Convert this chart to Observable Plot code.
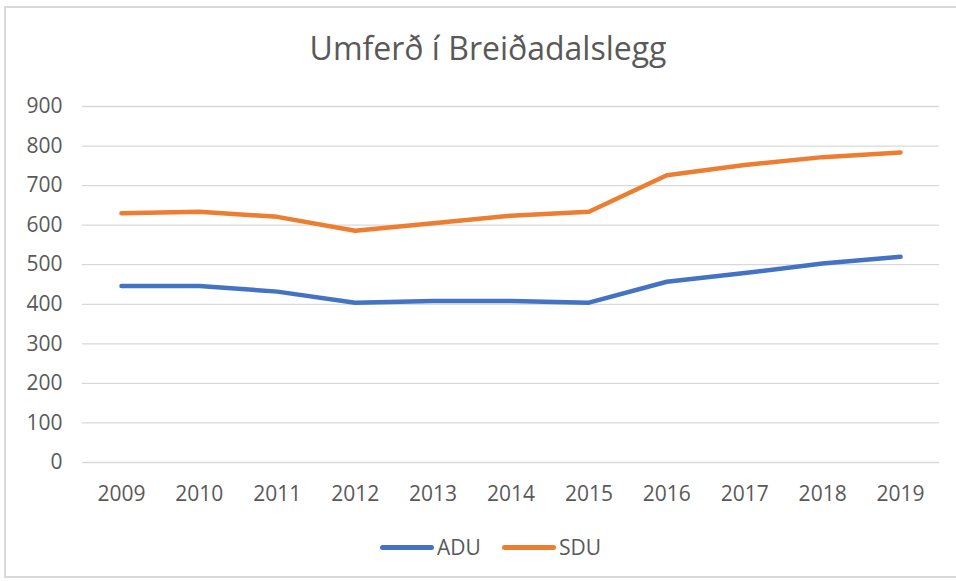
<!DOCTYPE html>
<html>
<head>
<meta charset="utf-8">
<script src="https://cdn.jsdelivr.net/npm/d3@7"></script>
<script src="https://cdn.jsdelivr.net/npm/@observablehq/plot@0.6"></script>
<style>
  html, body { margin: 0; padding: 0; background: #fff; }
  #wrap { position: relative; width: 956px; height: 581px; overflow: hidden; font-family: "Open Sans", sans-serif; color: #595959; }
  #frame { position: absolute; left: 4px; top: 6px; width: 970px; height: 572px; border: 2px solid #d9d9d9; box-sizing: border-box; }
  #title { position: absolute; top: 26px; left: 0; width: 976px; text-align: center; font-size: 32px; font-weight: 400; color: #595959; }
  #chart { position: absolute; top: 80px; left: 0; }
  #legend { position: absolute; top: 532px; left: 0; width: 956px; height: 30px; }
  .item { position: absolute; top: 0; height: 30px; font-size: 21px; line-height: 30px; color: #595959; }
  .swatch { position: absolute; top: 13px; height: 4.5px; border-radius: 3px; width: 54px; left: 0; }
  .lbl { position: absolute; left: 57px; top: 0; }
</style>
</head>
<body>
<div id="wrap">
  <div id="frame"></div>
  <div id="title">Umferð í Breiðadalslegg</div>
  <div id="chart"></div>
  <div id="legend"></div>
</div>
<script>
const years = ["2009","2010","2011","2012","2013","2014","2015","2016","2017","2018","2019"];
const adu = [446, 446, 432, 404, 408, 408, 404, 457, 479, 503, 520];
const sdu = [630, 634, 621, 586, 605, 624, 634, 726, 752, 772, 784];
const seriesNames = ["ADU", "SDU"];
const seriesColors = ["#4472C4", "#ED7D31"];
const yTicks = [0, 100, 200, 300, 400, 500, 600, 700, 800, 900];

const data = [];
years.forEach((y, i) => {
  data.push({year: y, value: adu[i], series: "ADU"});
  data.push({year: y, value: sdu[i], series: "SDU"});
});

const plot = Plot.plot({
  width: 956,
  height: 430,
  marginTop: 26,
  marginBottom: 48,
  marginLeft: 82,
  marginRight: 17,
  style: {fontSize: "21px", fontFamily: "Open Sans, sans-serif", color: "#595959", background: "transparent"},
  x: {type: "point", domain: years, padding: 0.5, round: false, label: null},
  y: {domain: [0, 900], label: null},
  color: {domain: seriesNames, range: seriesColors},
  marks: [
    Plot.gridY(yTicks, {stroke: "#d9d9d9", strokeOpacity: 1, strokeWidth: 1.3}),
    Plot.axisY(yTicks, {tickSize: 0, tickPadding: 20, label: null, fill: "#595959"}),
    Plot.axisX({tickSize: 0, tickPadding: 24, label: null, fill: "#595959"}),
    Plot.line(data, {x: "year", y: "value", z: "series", stroke: "series", strokeWidth: 4.5, strokeLinecap: "round", strokeLinejoin: "round"})
  ]
});
document.getElementById("chart").appendChild(plot);

const legendPos = [380, 502];
const legend = document.getElementById("legend");
seriesNames.forEach((name, i) => {
  const item = document.createElement("div");
  item.className = "item";
  item.style.left = legendPos[i] + "px";
  const sw = document.createElement("div");
  sw.className = "swatch";
  sw.style.background = seriesColors[i];
  const lb = document.createElement("div");
  lb.className = "lbl";
  lb.textContent = name;
  item.appendChild(sw);
  item.appendChild(lb);
  legend.appendChild(item);
});
</script>
</body>
</html>
